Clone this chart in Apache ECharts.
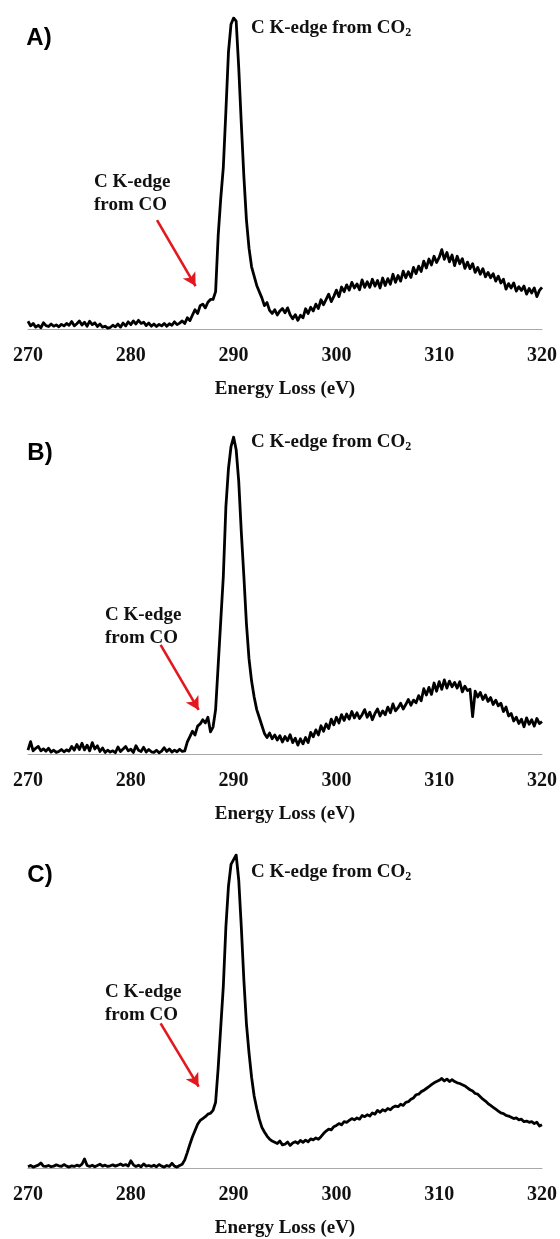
<!DOCTYPE html>
<html><head><meta charset="utf-8">
<script src="https://cdn.jsdelivr.net/npm/echarts@6/dist/echarts.min.js"></script>
<style>html,body{margin:0;padding:0;background:#fff}#c{width:560px;height:1239px}</style>
</head><body><div id="c"></div>
<script>
// Energy grid of the spectra (eV): 270 to 320 in 0.25 eV steps
const energyStart = 270, energyStep = 0.25;
const xTicks = [270, 280, 290, 300, 310, 320];
const axisTitle = 'Energy Loss (eV)';
const panelLabels = ['A)', 'B)', 'C)'];

// Normalised intensity (peak = 100)
const spectrumA = [
 2.5,1.0,1.8,0.6, 1.2,0.4,2.0,1.1, 0.8,1.6,0.9,1.3, 0.7,1.5,1.0,1.8, 1.2,2.4,1.0,1.7,
 2.6,1.3,2.2,0.9, 2.5,1.4,2.0,0.8, 1.6,0.6,0.9,0.3, 0.5,1.2,0.7,1.6, 0.6,1.9,1.0,2.3,
 1.4,2.6,1.6,2.8, 1.8,2.2,1.1,1.9, 0.9,1.6,0.8,1.5, 1.0,1.8,0.9,1.7, 1.2,2.3,1.4,1.9,
 2.6,1.8,3.6,2.7, 4.5,6.2,5.0,7.5, 8.0,6.8,8.6,9.5, 9.5,12,30,42, 52,70,89,98,
 100,99,84,66, 49,35,26,20, 17,14,12,10, 7.5,8.5,6.0,5.0, 6.2,4.5,5.8,6.6,
 5.2,6.8,4.6,3.3, 4.6,2.8,4.4,3.6, 6.5,5.0,7.0,5.8, 8.0,6.6,9.4,7.8, 9.5,11.2,8.8,10.5,
 12.5,10.4,13.5,12.0, 14.2,12.5,15.0,13.2, 14.5,12.6,15.8,13.4, 15.2,13.4,16.0,13.8, 15.6,13.2,16.4,14.0,
 16.2,14.4,17.6,15.0, 17.2,15.4,18.6,16.5, 18.4,16.6,19.8,17.8, 20.2,18.5,21.8,19.6, 22.5,20.6,23.4,21.4,
 23.0,25.5,22.4,24.6, 21.6,23.8,20.4,23.4, 21.0,22.6,19.5,21.5, 19.4,21.0,18.2,19.8, 17.6,19.4,16.8,18.2,
 16.5,17.8,15.4,17.0, 14.8,16.0,12.8,14.6, 13.2,14.8,12.2,13.6, 12.4,13.8,11.2,13.0, 11.6,13.2,10.4,12.4,
 13.4
];
const spectrumB = [
 1.2,3.9,1.0,1.8, 2.4,1.0,1.6,0.9, 1.8,0.6,1.2,0.5, 0.8,1.4,0.7,1.3, 0.9,2.4,1.2,3.0,
 1.4,3.4,1.3,2.8, 1.0,3.6,1.6,2.6, 0.8,1.9,0.5,1.2, 0.6,1.0,0.4,2.2, 0.8,1.6,2.4,1.0,
 1.5,0.5,2.6,1.2, 0.8,2.1,0.6,1.4, 0.7,0.5,1.2,0.4, 0.9,2.0,0.8,1.6, 0.6,1.2,0.7,1.5,
 0.8,1.0,3.8,5.5, 7.2,6.0,8.8,9.5, 10.8,9.8,11.6,7.0, 8.5,14,28,42, 56,78,90,97,
 100,96,86,70, 56,41,30,23, 18,14,11.5,9.0, 6.5,5.2,6.6,4.8, 6.0,4.4,5.8,3.8,
 5.5,4.2,6.1,3.6, 5.0,2.8,4.8,3.2, 5.2,3.6,6.8,5.4, 7.6,6.0,8.9,7.2, 9.5,8.0,11.0,9.2,
 11.6,9.8,12.4,10.6, 12.6,11.0,13.4,11.4, 13.0,11.2,12.4,14.0, 11.6,13.2,10.8,12.8, 14.2,12.0,13.6,12.4,
 14.8,13.0,15.8,13.6, 14.6,16.0,14.2,15.6, 17.2,15.4,17.0,16.2, 18.4,16.8,20.6,18.6, 21.0,18.8,22.4,19.8,
 22.8,20.4,23.4,20.8, 23.0,21.2,22.6,20.8, 22.8,19.6,21.4,20.0, 20.4,11.8,19.8,18.0, 19.4,17.2,18.6,16.6,
 17.8,15.6,17.0,15.2, 16.0,13.4,14.8,12.0, 12.8,10.4,11.6,9.6, 11.0,8.6,11.4,9.4, 10.8,8.8,11.2,9.6,
 10.2
];
const spectrumC = [
 0.4,0.8,0.3,0.6, 0.9,1.6,0.6,0.5, 0.8,0.4,0.6,1.0, 0.7,0.5,1.1,0.6, 0.3,0.7,0.5,0.9,
 0.6,1.2,2.9,0.8, 0.5,0.9,0.4,0.8, 1.2,0.6,0.9,0.5, 0.7,1.0,0.6,0.9, 1.3,0.8,1.1,0.6,
 2.3,1.0,0.5,0.9, 0.4,1.3,0.6,0.8, 0.5,0.9,0.4,1.1, 0.6,0.3,0.8,0.5, 1.5,0.6,0.3,0.8,
 1.2,2.6,5.0,7.6, 10.0,12.0,14.0,15.2, 15.8,16.4,17.2,17.5, 18.4,21.0,32,45, 58,77,90,97,
 98.5,100,92,77, 60,46,36.8,29, 23,19,15.6,13.0, 11.5,10.2,9.2,8.6, 8.2,7.8,8.6,7.4,
 7.6,8.3,7.2,8.0, 8.4,7.9,8.8,8.2, 8.9,8.4,9.3,9.0, 9.6,9.2,10.0,11.0, 11.8,12.4,12.2,13.2,
 13.6,14.2,13.8,14.8, 14.6,15.2,15.8,15.4, 16.0,15.6,16.8,16.4, 17.0,16.6,17.6,17.2, 18.4,17.8,18.6,18.2,
 19.0,18.6,19.4,19.8, 19.6,20.4,20.0,21.0, 21.2,22.0,22.4,23.4, 23.6,24.4,24.8,25.4, 26.0,26.6,27.2,27.6,
 28.0,28.6,27.8,28.4, 27.6,28.2,27.6,27.2, 27.0,26.6,26.2,25.6, 25.0,24.6,23.8,23.6, 22.8,22.0,21.4,20.6,
 20.0,19.4,18.8,18.2, 17.6,17.4,16.8,16.6, 16.2,15.8,16.0,15.4, 15.6,14.8,15.0,14.6, 14.8,14.2,14.6,13.4,
 13.8
];

// Annotation arrows (data coordinates: [energy, intensity] start -> end)
const arrowA = [[282.55, 35.0], [286.3, 13.8]];
const arrowB = [[282.9, 34.4], [286.6, 13.9]];
const arrowC = [[282.9, 46.2], [286.6, 26.0]];

const spectra = [spectrumA, spectrumB, spectrumC];
const arrows = [arrowA, arrowB, arrowC];

// layout
const grids = [
  {top: 18, height: 311},
  {top: 437, height: 317},
  {top: 855, height: 313}
];
const panelLabelPos = [[39, 38], [40, 453], [40, 875]];
const co2LabelPos = [[251, 28], [251, 442], [251, 872]];
const coLabelPos = [[94, 182], [105, 615], [105, 992]];

const serif = '"Liberation Serif","Times New Roman",serif';
const chart = echarts.init(document.getElementById('c'), null, {renderer: 'canvas'});

const option = {
  animation: false,
  backgroundColor: '#ffffff',
  grid: grids.map(g => ({left: 28, right: 15, top: g.top, height: g.height})),
  xAxis: grids.map((g, i) => ({
    gridIndex: i, type: 'value', min: 270, max: 320, interval: 10,
    axisLine: {show: true, lineStyle: {color: '#a8a8a8', width: 1}},
    axisTick: {show: false}, splitLine: {show: false},
    axisLabel: {fontFamily: serif, fontWeight: 'bold', fontSize: 20, color: '#111', margin: 17,
      formatter: v => xTicks.includes(v) ? String(v) : ''},
    name: axisTitle, nameLocation: 'middle', nameGap: 51,
    nameTextStyle: {fontFamily: serif, fontWeight: 'bold', fontSize: 19, color: '#111'}
  })),
  yAxis: grids.map((g, i) => ({gridIndex: i, type: 'value', min: 0, max: 100, show: false})),
  series: spectra.map((s, i) => ({
    type: 'line', xAxisIndex: i, yAxisIndex: i, showSymbol: false, symbol: 'none',
    lineStyle: {color: '#000', width: 2.8, join: 'round'},
    data: s.map((v, k) => [energyStart + k * energyStep, v]),
    markLine: {
      silent: true, symbol: ['none', 'arrow'], symbolSize: [11, 13],
      lineStyle: {color: '#e3171e', width: 2.6, type: 'solid'},
      label: {show: false},
      data: [[{coord: arrows[i][0]}, {coord: arrows[i][1]}]]
    }
  })),
  graphic: [].concat(
    panelLabelPos.map((p, i) => ({
      type: 'text', x: p[0], y: p[1],
      style: {text: panelLabels[i], fontFamily: '"Liberation Sans",Arial,sans-serif', fontWeight: 'bold',
        fontSize: 24, fill: '#000', align: 'center', verticalAlign: 'middle'}
    })),
    co2LabelPos.map(p => ({
      type: 'text', x: p[0], y: p[1] - 11,
      style: {
        text: '{a|C K-edge from CO}{s|2}', align: 'left', verticalAlign: 'top',
        rich: {
          a: {fontFamily: serif, fontWeight: 'bold', fontSize: 19, lineHeight: 22, fill: '#111'},
          s: {fontFamily: serif, fontWeight: 'bold', fontSize: 12, lineHeight: 10, verticalAlign: 'bottom', fill: '#111'}
        }
      }
    })),
    coLabelPos.map(p => ({
      type: 'text', x: p[0], y: p[1] - 11,
      style: {text: 'C K-edge\nfrom CO', fontFamily: serif, fontWeight: 'bold', fontSize: 19,
        lineHeight: 22.5, fill: '#111', align: 'left', verticalAlign: 'top'}
    }))
  )
};
chart.setOption(option);
</script></body></html>
